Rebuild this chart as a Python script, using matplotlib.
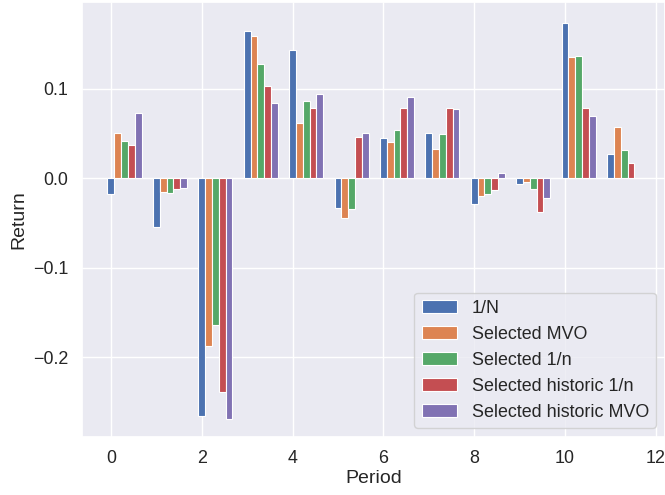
import matplotlib
matplotlib.use('Agg')
import matplotlib.pyplot as plt
import seaborn as sns
import numpy as np

periods = np.arange(12)
labels = ['1/N', 'Selected MVO', 'Selected 1/n', 'Selected historic 1/n', 'Selected historic MVO']

ret_1n = [-0.018, -0.055, -0.266, 0.164, 0.143, -0.033, 0.045, 0.050, -0.029, -0.007, 0.174, 0.027]
ret_sel_mvo = [0.051, -0.016, -0.188, 0.159, 0.062, -0.045, 0.040, 0.033, -0.020, -0.004, 0.135, 0.057]
ret_sel_1n = [0.041, -0.017, -0.164, 0.128, 0.086, -0.034, 0.054, 0.049, -0.018, -0.012, 0.137, 0.032]
ret_hist_1n = [0.037, -0.012, -0.239, 0.103, 0.078, 0.046, 0.078, 0.078, -0.013, -0.038, 0.078, 0.017]
ret_hist_mvo = [0.073, -0.011, -0.269, 0.084, 0.094, 0.050, 0.091, 0.077, 0.006, -0.022, 0.070, 0.0]


def main():
    sns.set_theme(font_scale=1.17)
    plt.rcParams['font.family'] = ['Liberation Sans', 'DejaVu Sans']
    series = [ret_1n, ret_sel_mvo, ret_sel_1n, ret_hist_1n, ret_hist_mvo]
    width = 0.15

    fig = plt.figure(figsize=(6.65, 4.95), dpi=100)
    ax = fig.add_axes([0.123, 0.118, 0.877, 0.878])
    for i, vals in enumerate(series):
        ax.bar(periods + i * width, vals, width, label=labels[i],
               edgecolor='white', linewidth=0.8)

    ax.set_xlabel('Period', labelpad=2)
    ax.set_ylabel('Return')
    ax.set_xticks([0, 2, 4, 6, 8, 10, 12])
    ax.set_xlim(-0.64, 12.2)
    ax.set_ylim(-0.289, 0.197)
    ax.legend(loc='lower right')
    fig.savefig('out.png')


if __name__ == '__main__':
    main()
